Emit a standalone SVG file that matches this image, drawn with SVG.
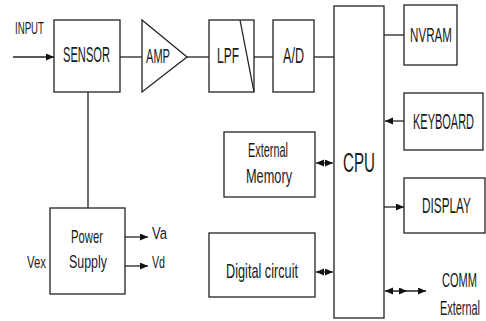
<svg xmlns="http://www.w3.org/2000/svg" width="486" height="321" viewBox="0 0 486 321">
<defs>
<style>
.box{fill:#fff;stroke:#222;stroke-width:1.3}
.ln{fill:none;stroke:#222;stroke-width:1.3}
.arr{fill:none;stroke:#222;stroke-width:1.3;marker-end:url(#ah)}
.dbl{fill:none;stroke:#222;stroke-width:1.3;marker-start:url(#ah);marker-end:url(#ah)}
text{font-family:"Liberation Sans",Arial,sans-serif;font-size:22px;fill:#1a1a1a}
.s17{font-size:17px}
.s18{font-size:18px}
.s20{font-size:20px}
.s21{font-size:21px}
.s28{font-size:28px}
</style>
<marker id="ah" markerUnits="userSpaceOnUse" markerWidth="9" markerHeight="8" refX="8" refY="3.5" orient="auto-start-reverse">
<path d="M0,0 L8,3.5 L0,7 z" fill="#111"/>
</marker>
</defs>
<rect width="486" height="321" fill="#fff"/>

<g id="connectors">
<line class="arr" x1="13" y1="57" x2="54" y2="57"/>
<line class="ln" x1="120" y1="57" x2="142" y2="57"/>
<line class="ln" x1="187" y1="57" x2="209" y2="57"/>
<line class="ln" x1="254" y1="57" x2="273" y2="57"/>
<line class="ln" x1="314" y1="57" x2="334" y2="57"/>
<line class="ln" x1="384" y1="35" x2="404" y2="35"/>
<line class="arr" x1="404" y1="121" x2="385" y2="121"/>
<line class="arr" x1="384" y1="207" x2="404" y2="207"/>
<line class="dbl" x1="316" y1="163" x2="333" y2="163"/>
<line class="dbl" x1="316" y1="272" x2="333" y2="272"/>
<path class="dbl" d="M385,291 L407,291 L426,291" style="marker-mid:url(#ah)"/>
<line class="ln" x1="88" y1="92" x2="88" y2="208"/>
<line class="arr" x1="125" y1="237" x2="148" y2="237"/>
<line class="arr" x1="125" y1="266" x2="148" y2="266"/>
</g>

<g id="input-label">
<text class="s17" transform="translate(15,34) scale(0.62,1)" textLength="46.8" lengthAdjust="spacingAndGlyphs">INPUT</text>
</g>

<g id="sensor">
<rect class="box" x="54" y="20" width="66" height="72"/>
<text transform="translate(63,62) scale(0.62,1)" textLength="75.8" lengthAdjust="spacingAndGlyphs">SENSOR</text>
</g>

<g id="amp">
<polygon class="box" points="142,20 187,57 142,92"/>
<text class="s20" transform="translate(146,63) scale(0.62,1)" textLength="38.7" lengthAdjust="spacingAndGlyphs">AMP</text>
</g>

<g id="lpf">
<rect class="box" x="209" y="20" width="45" height="72"/>
<line class="ln" x1="240" y1="20" x2="254" y2="92"/>
<text transform="translate(217,63) scale(0.62,1)" textLength="35.5" lengthAdjust="spacingAndGlyphs">LPF</text>
</g>

<g id="ad">
<rect class="box" x="273" y="20" width="41" height="72"/>
<text transform="translate(283,63) scale(0.62,1)" textLength="33.9" lengthAdjust="spacingAndGlyphs">A/D</text>
</g>

<g id="cpu">
<rect class="box" x="334" y="6" width="50" height="312"/>
<text class="s28" transform="translate(343,172) scale(0.62,1)" textLength="51.6" lengthAdjust="spacingAndGlyphs">CPU</text>
</g>

<g id="nvram">
<rect class="box" x="404" y="5" width="53" height="60"/>
<text class="s21" transform="translate(410,42) scale(0.62,1)" textLength="67.7" lengthAdjust="spacingAndGlyphs">NVRAM</text>
</g>

<g id="keyboard">
<rect class="box" x="404" y="93" width="79" height="57"/>
<text transform="translate(413,129) scale(0.5,1)" textLength="122" lengthAdjust="spacingAndGlyphs">KEYBOARD</text>
</g>

<g id="display">
<rect class="box" x="404" y="178" width="81" height="55"/>
<text transform="translate(422,213) scale(0.62,1)" textLength="79" lengthAdjust="spacingAndGlyphs">DISPLAY</text>
</g>

<g id="external-memory">
<rect class="box" x="224" y="132" width="91" height="65"/>
<text class="s20" transform="translate(248,157) scale(0.62,1)" textLength="64.5" lengthAdjust="spacingAndGlyphs">External</text>
<text class="s20" transform="translate(246,183) scale(0.62,1)" textLength="74.2" lengthAdjust="spacingAndGlyphs">Memory</text>
</g>

<g id="digital-circuit">
<rect class="box" x="209" y="233" width="106" height="64"/>
<text class="s21" transform="translate(226,278) scale(0.62,1)" textLength="116.1" lengthAdjust="spacingAndGlyphs">Digital circuit</text>
</g>

<g id="power-supply">
<rect class="box" x="50" y="208" width="75" height="86"/>
<text class="s18" transform="translate(71,243) scale(0.62,1)" textLength="51.6" lengthAdjust="spacingAndGlyphs">Power</text>
<text class="s18" transform="translate(69,268) scale(0.62,1)" textLength="61.3" lengthAdjust="spacingAndGlyphs">Supply</text>
</g>

<g id="vex-label">
<text class="s17" transform="translate(27,268) scale(0.62,1)" textLength="30.6" lengthAdjust="spacingAndGlyphs">Vex</text>
</g>
<g id="va-label">
<text class="s17" transform="translate(152,239) scale(0.62,1)" textLength="24.2" lengthAdjust="spacingAndGlyphs">Va</text>
</g>
<g id="vd-label">
<text class="s17" transform="translate(152,268) scale(0.62,1)" textLength="21" lengthAdjust="spacingAndGlyphs">Vd</text>
</g>

<g id="comm-external">
<text class="s21" transform="translate(442,287) scale(0.62,1)" textLength="56.5" lengthAdjust="spacingAndGlyphs">COMM</text>
<text class="s20" transform="translate(440,315) scale(0.62,1)" textLength="64.5" lengthAdjust="spacingAndGlyphs">External</text>
</g>
</svg>
